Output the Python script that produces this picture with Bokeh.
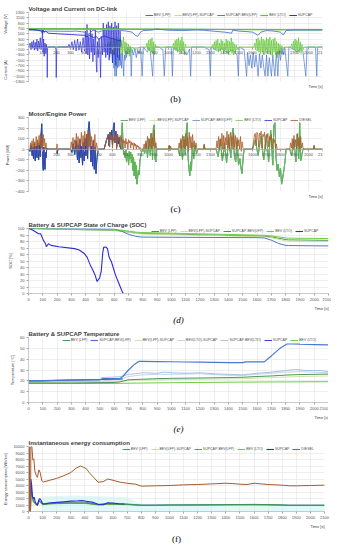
from bokeh.plotting import figure
from bokeh.layouts import column
from bokeh.models import Range1d, FixedTicker, Legend, LegendItem, Title
from bokeh.embed import file_html
from bokeh.resources import INLINE

# ---------------- data (time [s], value) ----------------
TIME_TICKS = list(range(0, 2101, 100))

# (b) voltage [V]
bev_lfp_voltage = [(0, 690), (300, 685), (600, 680), (700, 672), (1000, 668), (1400, 662), (1700, 660), (1800, 655), (2100, 652)]
lfp_supcap_voltage = [(0, 670), (700, 662), (1400, 655), (2100, 648)]
bev_lto_voltage = [(0, 675), (300, 672), (600, 670), (700, 665), (1000, 662), (1400, 660), (1700, 657), (1800, 652), (2100, 650)]
supcap_voltage = [(0, 660), (30, 655), (60, 640), (90, 600), (100, 520), (104, 640), (110, 560), (120, 600), (134, 560),
                  (140, 520), (200, 500), (260, 480), (300, 470), (350, 455), (400, 440), (420, 380), (430, 460), (450, 400),
                  (470, 330), (480, 420), (500, 300), (520, 360), (540, 420), (560, 380), (580, 340), (600, 320), (620, 280),
                  (640, 250), (660, 230)]
supcap_lfp_voltage = [(0, 640), (100, 620), (110, 560), (130, 600), (300, 590), (340, 600), (400, 560), (420, 460), (440, 520),
                      (460, 640), (480, 600), (500, 560), (520, 600), (540, 620), (580, 600), (620, 590), (660, 620), (700, 600),
                      (740, 560), (760, 450), (780, 400), (800, 560), (820, 620), (887, 640), (910, 680), (1000, 630),
                      (1100, 620), (1200, 640), (1250, 630), (1400, 560), (1450, 520), (1460, 640), (1500, 600), (1560, 580),
                      (1600, 560), (1640, 440), (1660, 560), (1700, 620), (1750, 600), (1800, 560), (1820, 450), (1840, 620),
                      (1900, 640), (2000, 640), (2100, 640)]
# (b) current [A]
supcap_current = [(0, 0), (12, 150), (18, -100), (24, 200), (30, -50), (36, 250), (42, -120), (48, 180), (54, -80), (60, 300),
                  (66, -150), (72, 220), (78, -60), (84, 350), (90, -100), (96, 250), (100, 700), (104, -200), (108, 300),
                  (112, -350), (118, 150), (124, -250), (128, 100), (132, -100), (134, -1150), (136, -50), (142, 0), (190, 0),
                  (196, -100), (198, -1150), (202, -50), (210, 0), (280, 0), (290, 100), (300, -80), (310, 200), (320, -100),
                  (330, 250), (340, -150), (350, 300), (360, -120), (370, 200), (380, -200), (390, 350), (400, -150),
                  (406, 600), (412, -250), (418, 850), (424, -300), (430, 400), (436, -450), (442, 700), (448, -200),
                  (454, 500), (460, -550), (466, 300), (472, -300), (478, 650), (484, -600), (488, -950), (492, 200),
                  (498, -400), (504, 300), (510, -200), (515, -1150), (520, 400), (528, -300), (534, 900), (540, -200),
                  (546, 700), (552, -400), (558, 850), (564, -300), (570, 950), (576, -500), (582, 800), (588, -250),
                  (594, 900), (600, -600), (606, 750), (612, -300), (618, 950), (624, -700), (630, 800), (636, -400),
                  (642, 900), (648, -500), (654, 600), (660, 0)]
supcap_lfp_current = [(0, 0), (540, 0), (560, -200), (570, 100), (580, -400), (590, 200), (600, -600), (605, -100), (610, -800),
                      (615, -200), (617, -1100), (620, -300), (625, -700), (628, -1100), (632, -200), (636, -800), (640, -300),
                      (645, -750), (650, -150), (655, -700), (660, -250), (665, -800), (670, -200), (675, -650), (680, -1100),
                      (685, -300), (690, -500), (695, -100), (700, -400), (710, 0), (720, -200), (728, 0), (734, -1100),
                      (740, -100), (750, -300), (760, -50), (770, -400), (780, -100), (790, -250), (800, 0), (812, -1100),
                      (820, 0), (850, -200), (860, 0), (870, -150), (887, -1100), (895, 0), (930, 0), (960, -100), (970, -1100),
                      (980, 0), (1020, 0), (1028, -1100), (1035, 0), (1080, -150), (1100, -50), (1130, -300), (1150, -80),
                      (1158, -1100), (1165, 0), (1250, 0), (1290, -100), (1299, -1100), (1305, 0), (1350, -150), (1380, -60),
                      (1420, -200), (1460, -120), (1490, -300), (1499, -1100), (1505, 0), (1540, -100), (1558, -1100),
                      (1565, -200), (1575, -700), (1585, -300), (1595, -800), (1605, -200), (1615, -750), (1625, -300),
                      (1635, -800), (1640, -1100), (1650, -250), (1660, -800), (1670, -300), (1680, -750), (1690, -1100),
                      (1700, -300), (1710, -1100), (1720, -400), (1728, -800), (1735, -1100), (1745, -300), (1752, -700),
                      (1760, -1100), (1770, -200), (1781, -1100), (1790, -100), (1800, -500), (1810, -50), (1820, -300),
                      (1830, 0), (1852, -1100), (1860, 0), (1900, -100), (1920, -200), (1940, -50), (1960, -150),
                      (1981, -1100), (1990, 0), (2050, 0), (2059, -1100), (2065, 0), (2100, 0)]
bev_lto_current = [(0, 0), (540, 0), (550, 100), (560, -50), (570, 200), (580, -100), (590, 300), (600, -150), (606, 350),
                   (612, -200), (618, 250), (624, -300), (630, 380), (636, -250), (642, 300), (648, -200), (654, 350),
                   (660, -300), (666, 250), (672, -200), (678, 380), (684, -150), (690, 200), (696, -300), (702, 150),
                   (708, -250), (714, 100), (720, -350), (726, 50), (732, -200), (740, 0), (760, -100), (780, -50), (800, 0),
                   (840, 0), (846, 150), (852, -100), (858, 250), (864, -150), (870, 300), (876, -200), (882, 350),
                   (888, -250), (894, 200), (900, -300), (906, 100), (912, 0), (1030, 0), (1036, 150), (1042, -100),
                   (1048, 250), (1054, -150), (1060, 300), (1066, -200), (1072, 350), (1078, -120), (1084, 250),
                   (1090, -250), (1096, 380), (1102, -150), (1108, 200), (1114, -300), (1120, 100), (1126, 0), (1310, 0),
                   (1316, 100), (1322, -80), (1328, 200), (1334, -120), (1340, 250), (1346, -100), (1352, 300), (1358, -200),
                   (1364, 150), (1370, -150), (1376, 280), (1382, -100), (1388, 220), (1394, -250), (1400, 150),
                   (1406, -120), (1412, 300), (1418, -200), (1424, 250), (1430, -300), (1436, 200), (1442, -150),
                   (1448, 350), (1454, -250), (1460, 200), (1466, -300), (1472, 120), (1478, -200), (1484, 80), (1490, -100),
                   (1500, 0), (1610, 0), (1616, 150), (1622, -100), (1628, 300), (1634, -150), (1640, 350), (1646, -200),
                   (1652, 250), (1658, -250), (1664, 380), (1670, -200), (1676, 300), (1682, -300), (1688, 250),
                   (1694, -150), (1700, 350), (1706, -250), (1712, 300), (1718, -200), (1724, 380), (1730, -300),
                   (1736, 250), (1742, -350), (1748, 300), (1754, -200), (1760, 350), (1766, -300), (1772, 200),
                   (1778, -400), (1784, 150), (1790, -300), (1796, 100), (1802, -200), (1810, 50), (1820, -100), (1830, 0),
                   (1875, 0), (1881, 120), (1887, -80), (1893, 220), (1899, -120), (1905, 300), (1911, -180), (1917, 250),
                   (1923, -150), (1929, 350), (1935, -200), (1941, 200), (1947, -250), (1953, 100), (1960, -100),
                   (1970, 0), (2100, 0)]

# (c) power [kW]
supcap_power = [(0, 0), (10, -20), (20, 40), (26, -60), (30, 20), (36, -90), (42, 50), (48, -110), (54, 30), (60, -80),
                (66, 60), (72, -100), (78, 40), (84, -70), (90, 120), (94, 240), (98, 60), (102, -150), (106, -200),
                (110, 20), (114, -120), (118, -190), (122, -30), (126, -80), (130, 10), (135, 0), (200, 0), (205, -40),
                (210, 0), (300, 0), (310, -30), (320, 50), (330, -50), (340, 80), (350, -100), (356, 40), (362, -130),
                (368, 90), (374, -80), (380, 30), (386, -150), (392, 60), (398, -110), (404, 100), (410, -60), (416, 140),
                (422, -90), (428, 200), (434, 260), (440, 60), (446, -120), (452, 30), (458, -160), (464, 80), (470, -190),
                (476, 20), (482, -230), (488, -100), (494, -40), (500, 0), (540, 0), (556, 80), (570, 140), (576, 30),
                (582, 160), (588, 90), (594, 180), (600, 40), (606, 200), (612, 250), (618, 60), (624, 170), (630, 20),
                (636, 140), (642, 50), (648, 110), (654, 30), (660, 0)]
ev_power_after_660 = [(670, 250), (675, 40), (680, -50), (685, -20), (690, -80), (695, -10), (700, -120), (705, -40),
                      (710, -60), (715, -150), (720, -20), (725, -90), (730, -30), (735, -130), (740, -50), (745, -200),
                      (750, -80), (755, -250), (760, -120), (765, -280), (770, -150), (775, -330), (780, -260), (785, -200),
                      (790, -240), (795, -120), (800, -80), (805, -40), (810, -20), (815, 0), (820, 0), (830, -40), (840, 60),
                      (850, -80), (860, 100), (870, -60), (880, 150), (886, -100), (892, 200), (898, 230), (904, -90),
                      (910, -120), (916, 0), (1000, 0), (1005, 30), (1010, -10), (1015, 0), (1070, 0), (1080, -60),
                      (1090, 80), (1100, -100), (1110, 120), (1120, -50), (1128, 180), (1134, 250), (1140, -80),
                      (1146, -180), (1152, -250), (1158, -120), (1164, -200), (1170, 60), (1180, -90), (1190, 40),
                      (1200, -40), (1210, 0), (1250, 0), (1255, 40), (1260, 0), (1340, 0), (1355, -70), (1370, 90),
                      (1385, -110), (1400, 60), (1415, -130), (1430, 110), (1445, -80), (1455, 150), (1462, 200),
                      (1470, -60), (1480, -120), (1490, 80), (1500, -150), (1510, -90), (1518, -180), (1525, -230),
                      (1532, -100), (1540, 0), (1600, 0), (1620, 90), (1640, -60), (1660, 120), (1680, -100), (1700, 140),
                      (1715, -120), (1730, 180), (1745, -150), (1752, 220), (1760, 250), (1768, -80), (1776, -200),
                      (1784, -140), (1792, -260), (1800, -180), (1808, -330), (1816, -270), (1824, -200), (1832, -120),
                      (1840, 0), (1866, 0), (1880, -60), (1895, 90), (1910, -120), (1920, 140), (1930, -90), (1937, 250),
                      (1944, -110), (1952, -60), (1960, 0), (2035, 0), (2040, 30), (2045, 0), (2100, 0)]
diesel_power = [(0, 0), (10, 0), (15, 60), (20, 10), (25, 80), (30, -10), (35, 100), (40, 20), (45, 70), (50, 0), (55, 120),
                (60, 30), (65, 90), (70, -20), (75, 130), (80, 40), (85, 150), (90, 10), (95, 110), (100, -10), (105, 140),
                (110, 30), (115, 100), (120, 0), (125, 60), (130, -5), (135, 0), (200, 0), (204, 50), (208, -20), (212, 0),
                (300, 0), (306, 70), (312, 10), (318, 110), (324, -10), (330, 90), (336, 30), (342, 150), (348, 0),
                (354, 120), (360, -20), (366, 100), (372, 40), (378, 160), (384, 10), (390, 130), (396, -10), (402, 170),
                (408, 30), (414, 140), (420, 0), (426, 180), (432, 20), (438, 150), (444, -10), (450, 120), (456, 30),
                (462, 90), (468, 0), (474, 140), (480, -20), (486, 60), (492, 10), (498, 0), (540, 0), (560, 100),
                (575, 140), (580, 20), (585, 150), (590, 90), (595, 130), (600, 10), (605, 110), (610, 80), (615, 170),
                (620, 60), (625, 120), (630, 0), (635, 140), (640, 90), (645, 100), (650, 20), (655, 130), (660, 70),
                (665, 110), (670, 0), (675, 90), (680, 60), (685, 80), (690, 10), (695, 100), (700, 50), (705, 70),
                (710, 0), (715, 90), (720, 60), (725, 80), (730, 10), (735, 70), (740, 40), (745, 60), (750, 0), (755, 60),
                (760, 30), (765, 50), (770, 0), (775, 40), (780, 20), (785, 30), (790, 0), (795, 20), (800, 10), (805, 0),
                (820, 0), (826, 50), (832, 0), (838, 80), (844, 10), (850, 120), (856, -10), (862, 90), (868, 20),
                (874, 150), (880, 0), (886, 110), (892, 30), (898, 180), (904, 10), (910, 60), (916, 0), (1000, 0),
                (1005, 40), (1010, -10), (1015, 30), (1020, 0), (1070, 0), (1076, 60), (1082, 10), (1088, 100),
                (1094, -10), (1100, 130), (1106, 20), (1112, 90), (1118, 0), (1124, 150), (1130, 30), (1136, 110),
                (1142, -20), (1148, 160), (1154, 10), (1160, 120), (1166, 0), (1172, 140), (1178, 20), (1184, 80),
                (1190, -10), (1196, 60), (1202, 10), (1208, 0), (1250, 0), (1255, 50), (1260, 0), (1340, 0), (1346, 80),
                (1352, 10), (1358, 120), (1364, -10), (1370, 100), (1376, 30), (1382, 150), (1388, 0), (1394, 130),
                (1400, -20), (1406, 110), (1412, 40), (1418, 170), (1424, 10), (1430, 140), (1436, -10), (1442, 160),
                (1448, 30), (1454, 120), (1460, 0), (1466, 150), (1472, 20), (1478, 130), (1484, -10), (1490, 110),
                (1496, 30), (1502, 90), (1508, 0), (1514, 120), (1520, -20), (1526, 70), (1532, 10), (1538, 0),
                (1600, 0), (1615, 140), (1620, 150), (1626, 30), (1632, 160), (1638, 140), (1644, 20), (1650, 150),
                (1656, 130), (1662, 170), (1668, 10), (1674, 140), (1680, 120), (1686, 160), (1692, 0), (1698, 130),
                (1704, 110), (1710, 150), (1716, 20), (1722, 120), (1728, 90), (1734, 140), (1740, 0), (1746, 100),
                (1752, 60), (1758, 90), (1764, 10), (1770, 50), (1776, 0), (1866, 0), (1872, 60), (1878, 10), (1884, 100),
                (1890, -10), (1896, 130), (1902, 20), (1908, 90), (1914, 0), (1920, 150), (1926, 30), (1932, 110),
                (1938, -10), (1944, 120), (1950, 10), (1956, 60), (1962, 0), (2035, 0), (2040, 40), (2045, 0), (2100, 0)]

# (d) state of charge [%]
soc_time = [0, 100, 200, 300, 400, 500, 600, 650, 700, 750, 780, 800, 900, 1000, 1100, 1200, 1300, 1400, 1500, 1600,
            1650, 1700, 1750, 1800, 1820, 1900, 2000, 2100]
soc_bev_lfp = [100, 99.5, 99, 98.5, 98, 97.5, 97, 96, 94.5, 93, 92.5, 92.3, 91.8, 91.3, 90.8, 90.3, 89.8, 89.3, 88.8, 88.3,
               88, 87, 85, 83, 82.5, 82.3, 82, 81.8]
soc_lfp_supcap = [100, 99.6, 99.2, 98.8, 98.3, 97.8, 97.3, 96.5, 94.5, 92.5, 91.8, 91.6, 91.1, 90.6, 90.1, 89.6, 89.1,
                  88.6, 88.1, 87.6, 87.2, 86, 83.5, 81, 80.5, 80.3, 80, 79.8]
soc_supcap_lfp = [100, 100, 100, 100, 99.8, 99.6, 99.2, 96, 91, 88, 87, 86.8, 86.6, 86.5, 86.4, 86.3, 86.2, 86.1, 86, 85.9,
                  85.5, 82, 77, 74, 73.8, 73.6, 73.4, 73.2]
soc_bev_lto = [100, 99.7, 99.4, 99, 98.7, 98.4, 98, 97.5, 96, 94.5, 94, 93.8, 93.3, 92.8, 92.3, 91.8, 91.3, 90.8, 90.3,
               89.8, 89.5, 88.5, 87, 85.5, 85.2, 85, 84.8, 84.6]
soc_supcap = [(0, 100), (26, 98), (48, 95), (70, 92), (85, 92), (103, 82.5), (118, 77), (125, 72), (140, 76.5), (158, 74),
              (213, 72), (322, 69), (355, 67), (388, 62), (410, 56), (432, 44), (450, 36), (465, 29), (480, 18.5),
              (498, 24), (509, 34), (520, 63), (526, 71), (542, 71.5), (553, 69), (564, 56), (581, 48.5), (608, 29),
              (630, 17), (652, 5), (663, 0)]

# (e) temperature [degC]
temp_bev_lfp = [(0, 18), (300, 18), (600, 18.5), (640, 19), (700, 21), (800, 21.5), (900, 22), (1000, 22.3), (1200, 22.6),
                (1400, 23), (1500, 23.3), (1600, 24), (1700, 24.5), (1800, 25.3), (1900, 25.8), (2000, 26), (2100, 26.2)]
temp_supcap_lfp = [(0, 20), (100, 20.2), (200, 20.4), (300, 20.6), (400, 20.8), (500, 21), (510, 21.5), (520, 22),
                   (640, 22), (660, 24), (700, 30), (740, 35), (775, 38), (800, 38), (900, 37.8), (1000, 37.6), (1100, 37.4),
                   (1200, 37.2), (1300, 37), (1400, 36.8), (1500, 36.8), (1520, 37.5), (1650, 37.5), (1700, 43), (1760, 50),
                   (1810, 54), (1850, 54), (1900, 53.8), (2000, 53.5), (2100, 53.2)]
temp_lfp_supcap = [(0, 18.5), (500, 19), (640, 19.5), (700, 20.5), (900, 21), (1200, 21.5), (1500, 22), (1700, 23),
                   (1900, 24), (2100, 24.5)]
temp_lto_supcap = [(0, 19), (500, 19.5), (600, 21), (650, 22), (700, 24), (800, 25.5), (900, 26), (1000, 26), (1200, 26.5),
                   (1400, 25), (1500, 25), (1600, 26), (1700, 27), (1800, 28), (1900, 28.5), (2000, 28), (2100, 27.5)]
temp_supcap_lto = [(0, 19.5), (500, 20), (510, 23), (600, 23.5), (650, 24), (700, 26), (750, 26.5), (800, 27.5), (900, 27),
                   (950, 28), (1000, 27.5), (1100, 27), (1200, 27.5), (1300, 26.5), (1400, 26), (1500, 25.5), (1600, 27),
                   (1700, 28), (1800, 29.5), (1870, 30.5), (1950, 29.5), (2050, 29.5), (2100, 28.5)]
temp_supcap = [(0, 20), (100, 20), (200, 20.5), (300, 20.8), (400, 21), (500, 21.2), (600, 21.5), (660, 21.6)]
temp_bev_lto = [(0, 17.5), (300, 17.5), (600, 17.6), (800, 18), (1000, 18.3), (1200, 18.5), (1400, 18.7), (1600, 18.9),
                (1800, 19), (2100, 19.2)]

# (f) energy consumption [Wh/km]
energy_bev_lfp = [(14, 0), (17, 3500), (25, 2500), (35, 1500), (50, 1200), (63, 900), (74, 1600), (85, 1400), (100, 1100),
                  (150, 1200), (200, 1250), (300, 1300), (400, 1300), (494, 1050), (562, 1150), (700, 1100), (800, 950),
                  (900, 950), (1000, 1000), (1200, 1000), (1400, 1050), (1600, 1050), (1700, 1050), (1800, 1000),
                  (1850, 950), (2000, 950), (2100, 950)]
energy_lfp_supcap = [(14, 0), (17, 3800), (25, 2700), (35, 1600), (50, 1250), (63, 950), (74, 1700), (85, 1500),
                     (100, 1150), (150, 1250), (200, 1300), (300, 1350), (400, 1380), (494, 1080), (562, 1200), (700, 1120),
                     (800, 980), (900, 980), (1000, 1000), (1200, 1020), (1400, 1060), (1600, 1070), (1700, 1050),
                     (1800, 1000), (1850, 960), (2000, 960), (2100, 960)]
energy_supcap_lfp = [(14, 0), (17, 4000), (25, 2800), (35, 1700), (50, 1300), (63, 1000), (74, 1800), (85, 1600),
                     (100, 1200), (150, 1300), (200, 1350), (300, 1450), (400, 1450), (494, 1100), (562, 1250), (700, 1150),
                     (800, 1000), (900, 1000), (1000, 1000), (1200, 1050), (1400, 1050), (1600, 1100), (1700, 1050),
                     (1800, 1000), (1850, 970), (2000, 970), (2100, 970)]
energy_bev_lto = [(14, 0), (17, 3300), (25, 2400), (35, 1400), (50, 1150), (63, 870), (74, 1550), (85, 1350), (100, 1050),
                  (150, 1150), (200, 1200), (300, 1250), (400, 1250), (494, 1000), (562, 1100), (700, 1050), (800, 920),
                  (900, 920), (1000, 960), (1200, 970), (1400, 1000), (1600, 1010), (1700, 1000), (1800, 960),
                  (1850, 920), (2000, 920), (2100, 920)]
energy_supcap = [(14, 0), (17, 5000), (22, 4200), (28, 2300), (34, 2000), (40, 2200), (48, 1500), (56, 1100), (63, 1000),
                 (74, 1800), (80, 2000), (90, 1700), (100, 1200), (110, 1150), (150, 1300), (200, 1400), (250, 1500),
                 (300, 1600), (350, 1650), (380, 1700), (420, 1550), (460, 1400), (494, 1100), (530, 1050), (562, 1350),
                 (600, 1300), (640, 1200), (680, 1150)]
energy_diesel = [(0, 0), (4, 0), (6, 10000), (8, 0), (14, 0), (17, 10000), (24, 10000), (31, 7900), (38, 8100), (45, 6200),
                 (56, 5500), (63, 5250), (74, 6400), (83, 6000), (94, 4750), (106, 4550), (150, 4800), (200, 5100),
                 (250, 5500), (300, 6000), (340, 6700), (370, 7000), (390, 6800), (410, 6600), (430, 6000), (460, 5300),
                 (494, 4500), (530, 4600), (562, 5000), (600, 4800), (650, 4500), (700, 4350), (760, 4200), (800, 3900),
                 (900, 3950), (1000, 4000), (1100, 4100), (1200, 4150), (1300, 4250), (1400, 4350), (1450, 4300),
                 (1500, 4200), (1550, 4150), (1600, 4350), (1650, 4250), (1700, 4150), (1800, 4050), (1850, 3950),
                 (1900, 3950), (2000, 4000), (2100, 4050)]
# light cyan band seen under the (f) curves
energy_cyan_band = [(100, 2300), (200, 2400), (300, 2450), (450, 2400), (550, 2300), (700, 2200), (760, 1500), (800, 1200),
                    (1200, 1200), (1600, 1200), (2100, 1150)]

# ---------------- styles ----------------
COL = {"BEV (LFP)": "#3A8A45", "BEV(LFP)-SUPCAP": "#C6DD90", "SUPCAP-BEV(LFP)": "#4A78D0", "BEV (LTO)": "#5DC72E",
       "SUPCAP": "#2B2BD6", "DIESEL": "#A85A2A", "BEV(LTO)-SUPCAP": "#B8C9E6", "SUPCAP-BEV(LTO)": "#8FB4E3"}
FONT = "Liberation Sans"
LEG_FS = 3.5
LEG_GLYPH = 8
LEG_STANDOFF = 1
LEG_SPACING = 3


def split(pairs):
    return [a for a, _ in pairs], [b for _, b in pairs]


def panel(title, ylabel, y0, y1, yticks, fw, fh, top, bottom, left, right, tag, tag_italic=False, zero_axis=False,
          tag_standoff=2):
    p = figure(frame_width=fw, frame_height=fh, x_range=Range1d(0, 2100), y_range=Range1d(y0, y1),
               output_backend="svg", toolbar_location=None, min_border_top=top, min_border_bottom=bottom,
               min_border_left=left, min_border_right=right)
    p.title.text = title
    p.title.text_font = FONT
    p.title.text_font_size = "6px"
    p.title.text_font_style = "bold"
    p.title.text_color = "#404040"
    p.title.standoff = 1
    p.outline_line_color = None
    for ax in (p.xaxis[0], p.yaxis[0]):
        ax.major_label_text_font = FONT
        ax.major_label_text_font_size = "4px"
        ax.major_label_text_color = "#505050"
        ax.major_label_standoff = 2
        ax.axis_line_color = "#A6A6A6"
        ax.axis_line_width = 0.6
        ax.major_tick_line_color = "#A6A6A6"
        ax.major_tick_out = 2
        ax.major_tick_in = 0
        ax.minor_tick_line_color = None
        ax.axis_label_text_font = FONT
        ax.axis_label_text_font_size = "4px"
        ax.axis_label_text_font_style = "normal"
        ax.axis_label_text_color = "#404040"
        ax.axis_label_standoff = 2
    p.xaxis[0].ticker = FixedTicker(ticks=TIME_TICKS)
    p.yaxis[0].ticker = FixedTicker(ticks=yticks)
    p.xgrid[0].ticker = FixedTicker(ticks=TIME_TICKS)
    p.ygrid[0].ticker = FixedTicker(ticks=yticks)
    for g in (p.xgrid[0], p.ygrid[0]):
        g.grid_line_color = "#E2E2E2"
        g.grid_line_width = 0.6
    if zero_axis:
        p.xaxis[0].fixed_location = 0
    p.yaxis[0].axis_label = ylabel
    p.add_layout(Title(text="Time [s]", align="right", text_font=FONT, text_font_size="4px",
                       text_font_style="normal", text_color="#404040", standoff=1), "below")
    p.add_layout(Title(text=tag, align="center", text_font="Liberation Serif", text_font_size="9px",
                       text_font_style="italic" if tag_italic else "normal", text_color="#000000",
                       standoff=tag_standoff), "below")
    return p


def legend(p, items, fw, fh):
    est = sum(len(it.label.value) * 0.62 * LEG_FS + LEG_GLYPH + LEG_STANDOFF + LEG_SPACING for it in items)
    leg = Legend(items=items, location=(max(0, fw - est), fh - 5), orientation="horizontal",
                 label_text_font=FONT, label_text_font_size=f"{LEG_FS}px", label_text_color="#505050",
                 glyph_width=LEG_GLYPH, glyph_height=4, label_height=4, label_width=0,
                 label_standoff=LEG_STANDOFF, spacing=LEG_SPACING, padding=0, margin=0,
                 border_line_alpha=0, background_fill_alpha=0)
    p.add_layout(leg)


def line(p, pairs, name, width=0.9):
    x, y = split(pairs)
    return p.line(x, y, line_color=COL[name], line_width=width)


# ---------------- (b) ----------------
nb = "\u00a0" * 24
FW_B, FH_B = 294, 69
pb = panel("Voltage and Current on DC-link", "Current [A]" + nb + "Voltage [V]", -1300, 1300,
           list(range(-1300, 1301, 200)), FW_B, FH_B, 12, 22, 20, 9, "(b)", zero_axis=True, tag_standoff=4)
rb_sl_i = line(pb, supcap_lfp_current, "SUPCAP-BEV(LFP)", 0.7)
rb_lto_i = line(pb, bev_lto_current, "BEV (LTO)", 0.7)
rb_s_i = line(pb, supcap_current, "SUPCAP", 0.7)
rb_lfp_v = line(pb, bev_lfp_voltage, "BEV (LFP)", 1.0)
rb_ls_v = line(pb, lfp_supcap_voltage, "BEV(LFP)-SUPCAP", 1.0)
rb_lto_v = line(pb, bev_lto_voltage, "BEV (LTO)", 1.2)
rb_sl_v = line(pb, supcap_lfp_voltage, "SUPCAP-BEV(LFP)", 0.9)
rb_s_v = line(pb, supcap_voltage, "SUPCAP", 0.9)
legend(pb, [LegendItem(label="BEV (LFP)", renderers=[rb_lfp_v]),
            LegendItem(label="BEV(LFP)-SUPCAP", renderers=[rb_ls_v]),
            LegendItem(label="SUPCAP-BEV(LFP)", renderers=[rb_sl_v, rb_sl_i]),
            LegendItem(label="BEV (LTO)", renderers=[rb_lto_v, rb_lto_i]),
            LegendItem(label="SUPCAP", renderers=[rb_s_v, rb_s_i])], FW_B, FH_B)

# ---------------- (c) ----------------
FW_C, FH_C = 294, 74
pc = panel("Motor/Engine Power", "Power  [kW]", -400, 300, list(range(-400, 301, 100)), FW_C, FH_C, 12, 22, 20, 9, "(c)",
           zero_axis=True, tag_standoff=5)
ev_power = supcap_power + ev_power_after_660
rc = {}
for name in ["BEV (LFP)", "BEV(LFP)-SUPCAP", "SUPCAP-BEV(LFP)", "BEV (LTO)"]:
    rc[name] = line(pc, ev_power, name, 0.7)
rc["SUPCAP"] = line(pc, supcap_power, "SUPCAP", 0.8)
rc["DIESEL"] = line(pc, diesel_power, "DIESEL", 0.8)
legend(pc, [LegendItem(label=n, renderers=[rc[n]]) for n in
            ["BEV (LFP)", "BEV(LFP)-SUPCAP", "SUPCAP-BEV(LFP)", "BEV (LTO)", "SUPCAP", "DIESEL"]], FW_C, FH_C)

# ---------------- (d) ----------------
FW_D, FH_D = 300, 65
pd_ = panel("Battery  & SUPCAP State of Charge (SOC)", "SOC [%]", 0, 100, list(range(0, 101, 10)), FW_D, FH_D, 12, 29,
            18, 7, "(d)", tag_italic=True, tag_standoff=2)
rd = {}
rd["BEV (LFP)"] = pd_.line(soc_time, soc_bev_lfp, line_color=COL["BEV (LFP)"], line_width=0.9)
rd["BEV(LFP)-SUPCAP"] = pd_.line(soc_time, soc_lfp_supcap, line_color=COL["BEV(LFP)-SUPCAP"], line_width=0.9)
rd["SUPCAP-BEV(LFP)"] = pd_.line(soc_time, soc_supcap_lfp, line_color=COL["SUPCAP-BEV(LFP)"], line_width=1.0)
rd["BEV (LTO)"] = pd_.line(soc_time, soc_bev_lto, line_color=COL["BEV (LTO)"], line_width=0.9)
rd["SUPCAP"] = line(pd_, soc_supcap, "SUPCAP", 1.1)
legend(pd_, [LegendItem(label=n, renderers=[rd[n]]) for n in
             ["BEV (LFP)", "BEV(LFP)-SUPCAP", "SUPCAP-BEV(LFP)", "BEV (LTO)", "SUPCAP"]], FW_D, FH_D)

# ---------------- (e) ----------------
FW_E, FH_E = 300, 65
pe = panel("Battery & SUPCAP  Temperature", "Temperature [\u00b0C]", 0, 60, list(range(0, 61, 10)), FW_E, FH_E, 12, 29,
           18, 7, "(e)", tag_italic=True, tag_standoff=2)
re_ = {}
re_["BEV(LFP)-SUPCAP"] = line(pe, temp_lfp_supcap, "BEV(LFP)-SUPCAP", 0.8)
re_["BEV(LTO)-SUPCAP"] = line(pe, temp_lto_supcap, "BEV(LTO)-SUPCAP", 0.8)
re_["SUPCAP-BEV(LTO)"] = line(pe, temp_supcap_lto, "SUPCAP-BEV(LTO)", 0.8)
re_["BEV (LTO)"] = line(pe, temp_bev_lto, "BEV (LTO)", 0.9)
re_["BEV (LFP)"] = line(pe, temp_bev_lfp, "BEV (LFP)", 0.9)
re_["SUPCAP"] = line(pe, temp_supcap, "SUPCAP", 0.9)
re_["SUPCAP-BEV(LFP)"] = line(pe, temp_supcap_lfp, "SUPCAP-BEV(LFP)", 1.2)
legend(pe, [LegendItem(label=n, renderers=[re_[n]]) for n in
            ["BEV (LFP)", "SUPCAP-BEV(LFP)", "BEV(LFP)-SUPCAP", "BEV(LTO)-SUPCAP", "SUPCAP-BEV(LTO)", "SUPCAP",
             "BEV (LTO)"]], FW_E, FH_E)

# ---------------- (f) ----------------
FW_F, FH_F = 296, 65
pf = panel("Instantaneous energy consumption", "Energy consumption [Wh/km]", 0, 10000, list(range(0, 10001, 1000)),
           FW_F, FH_F, 12, 34, 22, 7, "(f)", tag_standoff=4)
bx, by = split(energy_cyan_band)
pf.varea(x=bx, y1=[0] * len(bx), y2=by, fill_color="#CFF3F3", fill_alpha=0.6)
rf = {}
rf["BEV(LFP)-SUPCAP"] = line(pf, energy_lfp_supcap, "BEV(LFP)-SUPCAP", 0.9)
rf["SUPCAP-BEV(LFP)"] = line(pf, energy_supcap_lfp, "SUPCAP-BEV(LFP)", 0.9)
rf["BEV (LTO)"] = line(pf, energy_bev_lto, "BEV (LTO)", 0.9)
rf["BEV (LFP)"] = line(pf, energy_bev_lfp, "BEV (LFP)", 0.9)
rf["SUPCAP"] = line(pf, energy_supcap, "SUPCAP", 1.1)
rf["DIESEL"] = line(pf, energy_diesel, "DIESEL", 1.0)
legend(pf, [LegendItem(label=n, renderers=[rf[n]]) for n in
            ["BEV (LFP)", "BEV(LFP)-SUPCAP", "SUPCAP-BEV(LFP)", "BEV (LTO)", "SUPCAP", "DIESEL"]], FW_F, FH_F)

layout = column(pb, pc, pd_, pe, pf, spacing=0)
open("out.html", "w").write(file_html(layout, INLINE))
